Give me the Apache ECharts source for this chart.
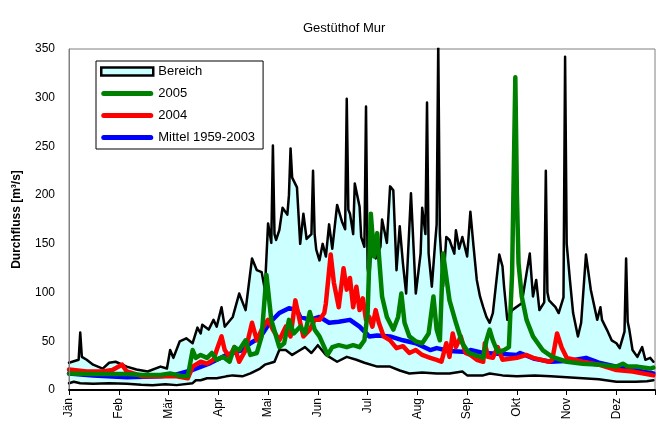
<!DOCTYPE html>
<html>
<head>
<meta charset="utf-8">
<title>Gestüthof Mur</title>
<script src="https://cdn.jsdelivr.net/npm/echarts@6.0.0/dist/echarts.min.js"></script>
<style>
  html, body { margin: 0; padding: 0; background: #fff; }
  #chart { width: 664px; height: 424px; }
</style>
</head>
<body>
<div id="chart"></div>
<script>
var months = ['Jän', 'Feb', 'Mär', 'Apr', 'Mai', 'Jun', 'Jul', 'Aug', 'Sep', 'Okt', 'Nov', 'Dez'];

var bereichMax = [[0,28],[6,31],[7,59],[8,34],[11,31],[15,26],[18,24],[21,22],[25,28],[29,29],[36,24],[42,21],[49,19],[57,24],[61,22],[63,41],[65,33],[69,50],[73,53],[77,48],[80,64],[82,58],[83,67],[87,62],[90,72],[92,65],[95,85],[97,65],[102,75],[106,99],[110,82],[114,135],[117,123],[120,121],[122,103],[124,171],[126,151],[127,251],[128,160],[129,154],[131,164],[133,187],[136,180],[137,200],[138,248],[139,218],[142,208],[144,150],[146,181],[148,155],[151,160],[152,225],[153,160],[154,144],[156,133],[158,150],[160,137],[162,170],[164,145],[167,190],[170,173],[172,165],[173,299],[174,185],[175,181],[177,160],[178,212],[181,188],[182,157],[184,147],[185,291],[186,125],[187,113],[189,165],[191,135],[194,147],[195,175],[198,151],[200,209],[202,205],[204,123],[206,168],[208,130],[210,99],[213,202],[216,99],[219,140],[220,187],[222,160],[223,295],[224,140],[226,106],[228,150],[229,170],[230,356],[231,160],[233,106],[235,157],[237,154],[240,140],[241,164],[243,145],[245,157],[248,137],[250,183],[252,147],[254,113],[256,96],[258,85],[260,75],[262,69],[264,79],[268,139],[270,127],[271,106],[273,72],[276,82],[282,89],[285,120],[287,140],[289,96],[291,113],[293,82],[296,90],[297,225],[298,100],[299,92],[303,85],[305,79],[308,95],[309,342],[310,150],[312,113],[314,79],[317,55],[319,69],[322,139],[325,103],[329,72],[331,85],[332,72],[335,62],[338,51],[341,48],[343,43],[346,60],[347,135],[348,70],[349,62],[351,41],[354,34],[357,44],[359,31],[362,33],[364,29]];
var bereichMin = [[0,7],[3,8.5],[7,7],[15,6.5],[25,7],[36,6.5],[45,5.5],[52,5],[60,6],[67,5],[77,7],[79,10],[82,10],[86,12],[92,12],[98,14],[102,15],[108,14],[113,17],[119,22],[122,26],[126,28],[128,29],[131,41],[135,41],[139,36],[143,40],[147,44],[151,38],[155,46],[160,36],[167,29],[173,34],[179,31],[184,28],[192,24],[200,24],[206,20],[212,17],[220,18],[229,17],[237,17],[245,19],[248,15],[258,15],[262,17],[270,15],[279,14],[290,15],[300,14],[310,13],[320,12],[330,11],[341,8.5],[353,8.5],[360,9],[364,10]];
var mittel = [[0,17],[15,15],[36,13],[57,14],[67,16],[77,20.5],[88,27.6],[98,36],[108,41],[113,48],[119,54],[125,69],[131,79],[137,84],[142,82],[144,75],[150,72],[156,75],[162,69],[168,70],[175,72],[181,65],[187,55],[192,56],[200,55],[208,51],[216,48],[225,41],[229,43],[237,40],[248,39],[250,41],[258,38],[270,37],[279,36],[281,38],[290,32],[300,29],[312,30],[322,33],[330,28],[341,24],[364,17]];
var jahr2004 = [[0,21],[11,19],[21,19],[27,20.5],[33,26],[36,19],[46,14],[67,14],[74,12],[77,24],[82,29],[86,27],[90,31],[92,41],[95,55],[97,41],[100,34],[103,44],[106,29],[110,41],[114,69],[117,51],[120,62],[124,72],[127,62],[131,51],[135,65],[138,55],[141,92],[144,69],[146,55],[150,62],[153,72],[156,72],[159,79],[160,89],[163,139],[165,110],[168,85],[171,125],[173,103],[175,115],[177,85],[179,106],[181,82],[183,94],[185,72],[187,75],[189,65],[191,82],[193,69],[196,55],[200,51],[204,43],[208,45],[212,38],[216,41],[220,36],[225,33],[229,31],[232,29],[235,48],[237,34],[239,58],[241,44],[244,55],[247,38],[250,36],[254,31],[258,29],[259,48],[261,34],[264,33],[267,44],[270,31],[279,33],[285,36],[289,33],[299,29],[301,31],[304,58],[307,43],[310,33],[320,29],[330,26],[341,20.5],[351,19],[364,15]];
var jahr2005 = [[0,17],[15,16.4],[36,16.4],[46,15.4],[57,15.4],[63,17],[71,14],[74,14],[77,41],[79,33],[82,36],[86,33],[89,38],[92,31],[96,34],[100,29],[103,44],[106,41],[110,51],[113,36],[117,38],[120,55],[123,118],[126,72],[129,55],[131,44],[134,48],[137,72],[140,58],[144,65],[147,58],[150,80],[153,62],[156,55],[159,44],[161,36],[164,44],[168,46],[173,44],[177,46],[181,44],[184,51],[186,79],[188,181],[190,137],[192,161],[195,96],[198,75],[202,62],[205,75],[207,99],[209,69],[212,55],[216,50],[220,48],[224,58],[227,96],[229,62],[231,51],[233,140],[237,92],[241,69],[245,48],[249,38],[258,33],[260,51],[262,62],[264,51],[267,39],[271,41],[274,44],[276,120],[278,321],[279,200],[280,130],[282,96],[285,72],[289,55],[295,41],[301,34],[310,29],[320,27],[331,26],[341,24],[345,27],[348,24],[354,24],[362,22],[364,23]];

var font = 'Arial, "Liberation Sans", sans-serif';
var barIcon = 'path://M0,0 L52,0 L52,8 L0,8 Z';
var lineIcon = 'path://M2.5,0 L49.5,0 A2.5,2.5 0 0 1 49.5,5 L2.5,5 A2.5,2.5 0 0 1 2.5,0 Z';

function lineSerie(name, data, color, width, z) {
	return {
		name: name,
		type: 'line',
		data: data,
		symbol: 'none',
		z: z,
		color: color,
		lineStyle: { color: color, width: width, cap: 'round', join: 'round' }
	};
}

var chart = echarts.init(document.getElementById('chart'));

var maxSerie = lineSerie('Bereich', bereichMax, '#000', 2.5, 1);
maxSerie.areaStyle = { color: '#ccffff', opacity: 1 };
var minSerie = lineSerie('Minimum', bereichMin, '#000', 2.5, 2);
minSerie.areaStyle = { color: '#ffffff', opacity: 1 };

var option = {
	animation: false,
	backgroundColor: '#fff',
	title: {
		text: 'Gestüthof Mur',
		left: 298,
		top: 17,
		textStyle: { fontFamily: font, fontSize: 13, fontWeight: 'normal', color: '#000' }
	},
	legend: {
		orient: 'vertical',
		left: 96,
		top: 61,
		padding: [4, 8, 5, 4],
		itemGap: 9,
		itemWidth: 52,
		itemHeight: 14,
		borderColor: '#000',
		borderWidth: 1,
		backgroundColor: '#fff',
		textStyle: { fontFamily: font, fontSize: 13, color: '#000' },
		data: [
			{ name: 'Bereich', icon: barIcon, itemStyle: { color: '#ccffff', borderColor: '#000', borderWidth: 2.5 } },
			{ name: '2005', icon: lineIcon, itemStyle: { color: '#008000', borderWidth: 0 } },
			{ name: '2004', icon: lineIcon, itemStyle: { color: '#ff0000', borderWidth: 0 } },
			{ name: 'Mittel 1959-2003', icon: lineIcon, itemStyle: { color: '#0000ff', borderWidth: 0 } }
		]
	},
	grid: {
		left: 69,
		right: 9,
		top: 49,
		bottom: 34,
		show: true,
		borderColor: '#808080',
		borderWidth: 1
	},
	xAxis: {
		type: 'value',
		min: 0,
		max: 365,
		interval: 31,
		z: 10,
		splitLine: { show: false },
		axisLine: { lineStyle: { color: '#000', width: 2 } },
		axisTick: { length: 5, lineStyle: { color: '#000' } },
		axisLabel: {
			rotate: 90,
			margin: 8,
			fontFamily: font,
			fontSize: 12,
			color: '#000',
			formatter: function (v) {
				var i = v / 31;
				return (i === Math.floor(i) && i < 12) ? months[i] : '';
			}
		}
	},
	yAxis: {
		type: 'value',
		min: 0,
		max: 350,
		interval: 50,
		z: 10,
		name: 'Durchfluss [m³/s]',
		nameLocation: 'middle',
		nameRotate: 90,
		nameGap: 46,
		nameTextStyle: { fontFamily: font, fontSize: 12, fontWeight: 'bold', color: '#000' },
		splitLine: { show: false },
		axisLine: { show: true, lineStyle: { color: '#808080', width: 1 } },
		axisTick: { show: false },
		axisLabel: { margin: 14, fontFamily: font, fontSize: 12, color: '#000' }
	},
	series: [
		maxSerie,
		minSerie,
		lineSerie('Mittel 1959-2003', mittel, '#0000ff', 4.5, 3),
		lineSerie('2004', jahr2004, '#ff0000', 4.5, 4),
		lineSerie('2005', jahr2005, '#008000', 4.5, 5)
	]
};

chart.setOption(option);
</script>
</body>
</html>
